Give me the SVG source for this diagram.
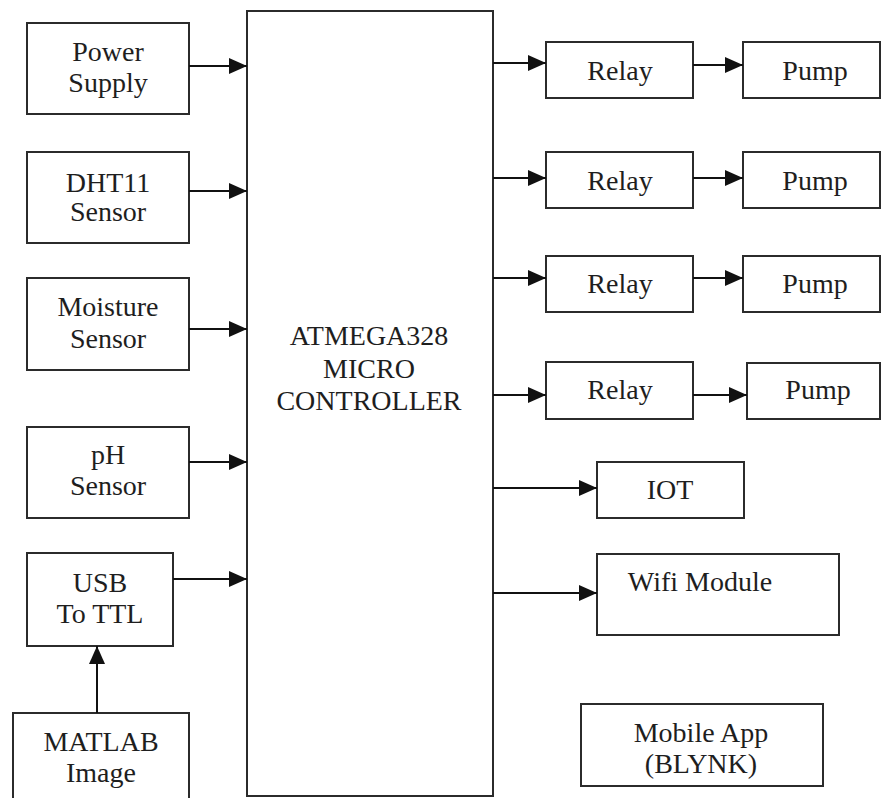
<svg xmlns="http://www.w3.org/2000/svg" width="883" height="798" viewBox="0 0 883 798">
<style>
.box{fill:#fff;stroke:#2b2b2b;stroke-width:2}
.t{font-family:'Liberation Serif','Times New Roman',Tinos,'DejaVu Serif',serif;font-size:28px;fill:#1e1e1e;text-anchor:middle}
.c{stroke:#111;stroke-width:2;fill:none;marker-end:url(#ah)}
</style>
<defs>
<marker id="ah" markerUnits="userSpaceOnUse" markerWidth="18" markerHeight="16" refX="18" refY="8" orient="auto">
<path d="M0,0 L18,8 L0,16 z" fill="#111"/>
</marker>
</defs>
<rect width="883" height="798" fill="#fff"/>
<g id="power"><rect class="box" x="27" y="23" width="162" height="91"/><text class="t" x="108" y="61">Power</text><text class="t" x="108" y="92">Supply</text></g>
<g id="dht11"><rect class="box" x="27" y="152" width="162" height="91"/><text class="t" x="108" y="192">DHT11</text><text class="t" x="108" y="221">Sensor</text></g>
<g id="moisture"><rect class="box" x="27" y="278" width="162" height="92"/><text class="t" x="108" y="316">Moisture</text><text class="t" x="108" y="348">Sensor</text></g>
<g id="ph"><rect class="box" x="27" y="427" width="162" height="91"/><text class="t" x="108" y="464">pH</text><text class="t" x="108" y="495">Sensor</text></g>
<g id="usb"><rect class="box" x="27" y="553" width="146" height="93"/><text class="t" x="100" y="592">USB</text><text class="t" x="100" y="623">To TTL</text></g>
<g id="matlab"><rect class="box" x="13" y="713" width="176" height="90"/><text class="t" x="101" y="751">MATLAB</text><text class="t" x="101" y="782">Image</text></g>
<g id="mcu"><rect class="box" x="247" y="11" width="246" height="785"/><text class="t" x="369" y="345">ATMEGA328</text><text class="t" x="369" y="378">MICRO</text><text class="t" x="369" y="410">CONTROLLER</text></g>
<g id="relay1"><rect class="box" x="546" y="42" width="147" height="56"/><text class="t" x="620" y="80">Relay</text></g>
<g id="pump1"><rect class="box" x="743" y="42" width="137" height="56"/><text class="t" x="815" y="80">Pump</text></g>
<g id="relay2"><rect class="box" x="546" y="152" width="147" height="56"/><text class="t" x="620" y="190">Relay</text></g>
<g id="pump2"><rect class="box" x="743" y="152" width="137" height="56"/><text class="t" x="815" y="190">Pump</text></g>
<g id="relay3"><rect class="box" x="546" y="256" width="147" height="56"/><text class="t" x="620" y="293">Relay</text></g>
<g id="pump3"><rect class="box" x="743" y="256" width="137" height="56"/><text class="t" x="815" y="293">Pump</text></g>
<g id="relay4"><rect class="box" x="546" y="362" width="147" height="57"/><text class="t" x="620" y="399">Relay</text></g>
<g id="pump4"><rect class="box" x="747" y="363" width="133" height="56"/><text class="t" x="818" y="399">Pump</text></g>
<g id="iot"><rect class="box" x="597" y="462" width="147" height="56"/><text class="t" x="670" y="499">IOT</text></g>
<g id="wifi"><rect class="box" x="597" y="554" width="242" height="81"/><text class="t" x="700" y="591">Wifi Module</text></g>
<g id="mobile"><rect class="box" x="581" y="704" width="242" height="82"/><text class="t" x="701" y="742">Mobile App</text><text class="t" x="701" y="773">(BLYNK)</text></g>
<g id="connectors">
<line class="c" x1="189" y1="66" x2="247" y2="66"/>
<line class="c" x1="189" y1="191" x2="247" y2="191"/>
<line class="c" x1="189" y1="329" x2="247" y2="329"/>
<line class="c" x1="189" y1="462" x2="247" y2="462"/>
<line class="c" x1="173" y1="579" x2="247" y2="579"/>
<line class="c" x1="97" y1="713" x2="97" y2="646"/>
<line class="c" x1="493" y1="63" x2="546" y2="63"/>
<line class="c" x1="493" y1="178" x2="546" y2="178"/>
<line class="c" x1="493" y1="278" x2="546" y2="278"/>
<line class="c" x1="493" y1="395" x2="546" y2="395"/>
<line class="c" x1="693" y1="65" x2="743" y2="65"/>
<line class="c" x1="693" y1="178" x2="743" y2="178"/>
<line class="c" x1="693" y1="278" x2="743" y2="278"/>
<line class="c" x1="693" y1="395" x2="747" y2="395"/>
<line class="c" x1="493" y1="488" x2="597" y2="488"/>
<line class="c" x1="493" y1="593" x2="597" y2="593"/>
</g>
</svg>
